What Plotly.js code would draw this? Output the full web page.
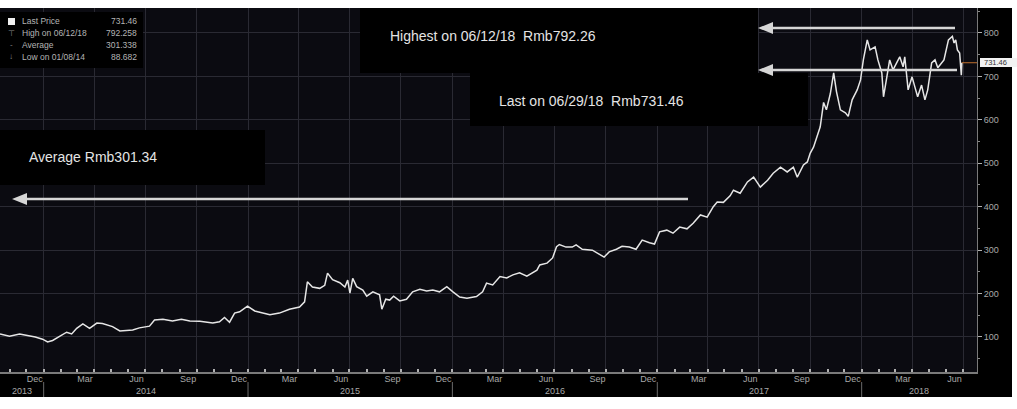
<!DOCTYPE html>
<html><head><meta charset="utf-8">
<script src="https://cdn.plot.ly/plotly-3.0.1.min.js"></script>
<style>html,body{margin:0;padding:0;background:#fff;overflow:hidden}#chart{width:1017px;height:409px}</style>
</head><body><div id="chart"></div>
<script>
// ---- data ----
const dates = ['2013-10-15','2013-11-01','2013-11-19','2013-12-03','2013-12-17','2013-12-30','2014-01-08','2014-01-17','2014-01-29','2014-02-11','2014-02-20','2014-03-01','2014-03-12','2014-03-24','2014-04-06','2014-04-16','2014-05-04','2014-05-17','2014-06-09','2014-06-21','2014-07-09','2014-07-18','2014-08-02','2014-08-19','2014-09-04','2014-09-19','2014-10-07','2014-10-30','2014-11-11','2014-11-20','2014-11-29','2014-12-08','2014-12-17','2014-12-31','2015-01-13','2015-01-27','2015-02-09','2015-02-26','2015-03-16','2015-04-03','2015-04-12','2015-04-17','2015-04-26','2015-05-09','2015-05-18','2015-05-23','2015-06-01','2015-06-14','2015-06-23','2015-06-28','2015-07-02','2015-07-07','2015-07-14','2015-07-25','2015-08-01','2015-08-12','2015-08-24','2015-08-28','2015-09-04','2015-09-11','2015-09-18','2015-09-29','2015-10-11','2015-10-22','2015-11-04','2015-11-16','2015-11-27','2015-12-09','2015-12-22','2016-01-02','2016-01-14','2016-01-27','2016-02-13','2016-02-24','2016-03-02','2016-03-13','2016-03-26','2016-04-07','2016-04-18','2016-04-30','2016-05-13','2016-05-31','2016-06-05','2016-06-18','2016-06-28','2016-07-05','2016-07-10','2016-07-22','2016-08-02','2016-08-09','2016-08-20','2016-09-07','2016-09-19','2016-09-28','2016-10-07','2016-10-20','2016-10-30','2016-11-12','2016-11-24','2016-12-05','2016-12-18','2016-12-27','2017-01-05','2017-01-18','2017-01-29','2017-02-10','2017-02-23','2017-03-06','2017-03-19','2017-03-31','2017-04-11','2017-04-18','2017-04-29','2017-05-11','2017-05-17','2017-05-29','2017-06-11','2017-06-22','2017-07-04','2017-07-17','2017-07-27','2017-08-09','2017-08-21','2017-09-01','2017-09-08','2017-09-19','2017-09-26','2017-10-01','2017-10-07','2017-10-14','2017-10-19','2017-10-25','2017-10-30','2017-11-06','2017-11-12','2017-11-17','2017-11-24','2017-12-03','2017-12-08','2017-12-15','2017-12-24','2017-12-30','2018-01-04','2018-01-11','2018-01-16','2018-01-25','2018-01-30','2018-02-06','2018-02-09','2018-02-15','2018-02-20','2018-02-26','2018-03-05','2018-03-10','2018-03-16','2018-03-19','2018-03-25','2018-04-01','2018-04-06','2018-04-11','2018-04-18','2018-04-24','2018-04-29','2018-05-06','2018-05-12','2018-05-17','2018-05-28','2018-06-05','2018-06-12','2018-06-15','2018-06-18','2018-06-21','2018-06-25','2018-06-28','2018-06-29'];
const prices = [107,102,107,104,100,95,88.68,92,102,111,107,120,130,120,132,131,124,114,116,121,125,139,141,137,141,137,136,132,135,145,134,155,158,171,160,155,151,155,164,169,181,227,215,212,219,247,232,225,215,231,201,235,216,208,194,204,197,164,187,185,194,183,187,204,210,206,208,204,216,204,192,189,193,204,224,220,239,236,243,248,240,254,266,270,282,308,313,307,307,312,302,300,291,284,296,302,309,307,302,323,317,314,342,346,339,353,349,362,381,376,400,411,410,425,438,431,457,468,445,461,477,491,480,491,468,496,503,523,537,565,584,640,623,660,708,665,623,616,608,646,669,692,738,784,761,768,738,708,653,699,738,715,731,745,722,745,669,699,676,653,680,646,669,731,738,720,738,784,792.26,777,784,761,754,703,731.46];

const monthTickDates = ['2013-12-16','2014-03-16','2014-06-16','2014-09-16','2014-12-16','2015-03-16','2015-06-16','2015-09-16','2015-12-16','2016-03-16','2016-06-16','2016-09-16','2016-12-16','2017-03-16','2017-06-16','2017-09-16','2017-12-16','2018-03-16','2018-06-16'];
const monthTickLabels = ['Dec','Mar','Jun','Sep','Dec','Mar','Jun','Sep','Dec','Mar','Jun','Sep','Dec','Mar','Jun','Sep','Dec','Mar','Jun'];
const quarterStarts = ['2014-01-01','2014-04-01','2014-07-01','2014-10-01','2015-01-01','2015-04-01','2015-07-01','2015-10-01','2016-01-01','2016-04-01','2016-07-01','2016-10-01','2017-01-01','2017-04-01','2017-07-01','2017-10-01','2018-01-01','2018-04-01','2018-07-01'];
const yearLabels = ['2013','2014','2015','2016','2017','2018'];
const yearStarts = ['2013-01-01','2014-01-01','2015-01-01','2016-01-01','2017-01-01','2018-01-01','2019-01-01'];
const legendLabels = ['Last Price','High on 06/12/18','Average','Low on 01/08/14'];
const legendValues = ['731.46','792.258','301.338','88.682'];
const legendSymbols = ['', '\u22A4', '-', '\u2193'];
const calloutHigh = 'Highest on 06/12/18  Rmb792.26';
const calloutLast = 'Last on 06/29/18  Rmb731.46';
const calloutAvg = 'Average Rmb301.34';
const lastTag = '731.46';
const xRange = ['2013-10-15','2018-07-26'];
const yRange = [19.4, 857.5];

// ---- layout helpers (pixel -> paper) ----
const L = 0, R = 977, T = 8, B = 372;
const px = x => (x - L) / (R - L);
const py = y => (B - y) / (B - T);

const grey = '#a8a8a8';
const FONT = 'Liberation Sans, Arial, sans-serif';

const shapes = [];
const annotations = [];
function label(x, y, text, size, color, xanchor, xref) {
  annotations.push({xref: xref || 'paper', yref:'paper', x:x, y:y, xanchor:xanchor || 'left', yanchor:'middle',
    text:text, showarrow:false, font:{family:FONT, size:size, color:color}});
}

// black frame strips outside the plot area
shapes.push({type:'rect', xref:'paper', yref:'paper', x0:0, x1:px(1012), y0:py(397), y1:0, fillcolor:'#000', line:{width:0}, layer:'below'});
shapes.push({type:'rect', xref:'paper', yref:'paper', x0:1, x1:px(1012), y0:0, y1:1, fillcolor:'#000', line:{width:0}, layer:'below'});

// year separators + year labels
const r0 = new Date(xRange[0]).getTime(), r1 = new Date(xRange[1]).getTime();
for (let i = 0; i < yearLabels.length; i++) {
  const s = new Date(yearStarts[i]).getTime(), e = new Date(yearStarts[i+1]).getTime();
  if (s > r0 && s < r1) {
    shapes.push({type:'line', xref:'x', yref:'paper', x0:yearStarts[i], x1:yearStarts[i], y0:py(382), y1:py(397), line:{color:'#6a6a6a', width:1}});
  }
  const mid = (Math.max(s, r0) + Math.min(e, r1)) / 2;
  label(mid, py(391), yearLabels[i], 9, grey, 'center', 'x');
}

// last price line to the axis + tag
const n = dates.length;
shapes.push({type:'line', xref:'x', yref:'y', x0:dates[n-1], x1:xRange[1], y0:prices[n-1], y1:prices[n-1], line:{color:'#c0702c', width:1}});
shapes.push({type:'rect', xref:'paper', yref:'paper', x0:px(980), x1:px(1018), y0:py(67), y1:py(58), fillcolor:'#f2f2f2', line:{width:0}});
label(px(982), py(62.5), lastTag, 7.5, '#333');

// callout boxes
shapes.push({type:'rect', xref:'paper', yref:'paper', x0:px(360), x1:px(758), y0:py(73), y1:py(8), fillcolor:'#000', line:{width:0}});
shapes.push({type:'rect', xref:'paper', yref:'paper', x0:px(470), x1:px(808), y0:py(126), y1:py(73), fillcolor:'#000', line:{width:0}});
shapes.push({type:'rect', xref:'paper', yref:'paper', x0:px(0), x1:px(265), y0:py(185), y1:py(130), fillcolor:'#000', line:{width:0}});
label(px(388), py(36), calloutHigh, 14, '#e4e4e4');
label(px(497), py(101), calloutLast, 14, '#e4e4e4');
label(px(27), py(157), calloutAvg, 14, '#e4e4e4');

// arrows
const arrowCol = '#d6d6d6';
function arrow(xTip, xEnd, y) {
  shapes.push({type:'line', xref:'paper', yref:'paper', x0:px(xTip+10), x1:px(xEnd), y0:py(y), y1:py(y), line:{color:arrowCol, width:2.5}});
  shapes.push({type:'path', xref:'paper', yref:'paper', path:`M ${px(xTip)},${py(y)} L ${px(xTip+15)},${py(y-6)} L ${px(xTip+15)},${py(y+6)} Z`, fillcolor:arrowCol, line:{width:0}});
}
arrow(758, 955, 28);
arrow(758, 957, 70);
arrow(12, 688, 199);

// legend box
shapes.push({type:'rect', xref:'paper', yref:'paper', x0:px(0), x1:px(143), y0:py(68), y1:py(12), fillcolor:'#000', line:{width:0}});
shapes.push({type:'rect', xref:'paper', yref:'paper', x0:px(8), x1:px(15), y0:py(25), y1:py(18), fillcolor:'#f0f0f0', line:{width:0}});
for (let i = 0; i < legendLabels.length; i++) {
  const yy = py(21.5 + 11.7 * i);
  label(px(20), yy, legendLabels[i], 8.5, '#b4b4b4');
  label(px(139), yy, legendValues[i], 8.5, '#b4b4b4', 'right');
  if (legendSymbols[i]) label(px(11), yy, legendSymbols[i], 8, '#8a8a8a', 'center');
}

const traces = [
  {type:'scatter', mode:'lines', x:dates, y:prices, line:{color:'#e6e6e6', width:1.5}, hoverinfo:'skip', showlegend:false},
  {type:'scatter', mode:'lines', x:[dates[0]], y:[null], xaxis:'x2', yaxis:'y', hoverinfo:'skip', showlegend:false}
];

const layout = {
  width:1017, height:409, autosize:false,
  margin:{l:L, r:1017-R, t:T, b:409-B, pad:0},
  paper_bgcolor:'#ffffff', plot_bgcolor:'#0b0b11',
  font:{family:FONT, color:grey},
  showlegend:false,
  xaxis:{type:'date', range:xRange, tickmode:'array', tickvals:quarterStarts, showticklabels:false, ticks:'',
    showgrid:true, gridcolor:'#2a2a33', gridwidth:1, showline:true, linecolor:'#7a7a7a', linewidth:2, zeroline:false,
    minor:{tickmode:'linear', tick0:'2014-01-01', dtick:'M1', ticks:'inside', ticklen:3, tickwidth:2, tickcolor:'#b0b0b0', showgrid:false},
    fixedrange:true},
  xaxis2:{type:'date', range:xRange, overlaying:'x', anchor:'y', side:'bottom', tickmode:'array', tickvals:monthTickDates, ticktext:monthTickLabels,
    showgrid:false, ticks:'', showline:false, zeroline:false, tickfont:{family:FONT, size:9, color:grey}, ticklabelstandoff:0, fixedrange:true},
  yaxis:{side:'right', range:yRange, tickmode:'linear', tick0:0, dtick:100, ticks:'outside', ticklen:4, tickcolor:'#b0b0b0',
    showline:true, linecolor:'#7a7a7a', linewidth:1, showgrid:true, gridcolor:'#2a2a33', zeroline:false,
    tickfont:{family:FONT, size:9, color:grey},
    minor:{tickmode:'linear', tick0:0, dtick:50, ticks:'outside', ticklen:2, tickcolor:'#888', showgrid:false},
    fixedrange:true},
  shapes:shapes,
  annotations:annotations
};

Plotly.newPlot('chart', traces, layout, {displayModeBar:false, staticPlot:true});
</script></body></html>
